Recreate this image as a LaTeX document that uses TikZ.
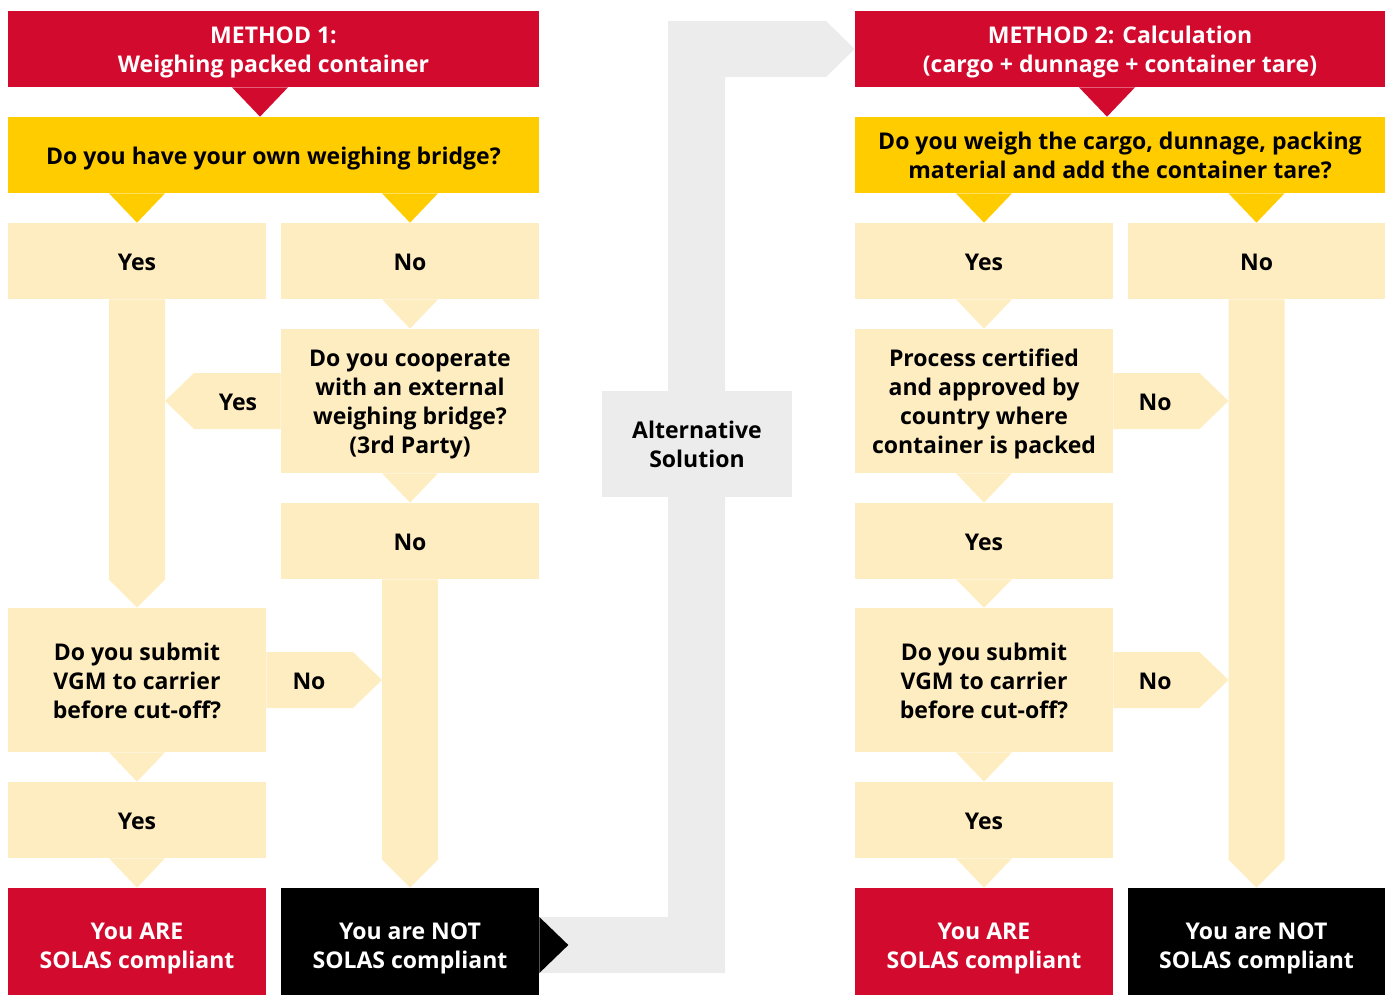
\documentclass[tikz,border=0pt]{standalone}
\usepackage{fontspec}
\setmainfont{Open Sans}
\usetikzlibrary{calc,backgrounds}
\definecolor{sred}{HTML}{D20A2E}
\definecolor{syel}{HTML}{FFCC00}
\definecolor{spale}{HTML}{FFEDC2}
\definecolor{sgray}{HTML}{ECECEC}
\newcommand\lines[1]{\raisebox{-1.9pt}[\height][\depth]{\begin{tabular}{@{}c@{}}#1\end{tabular}}}
\newcommand\dtri[3]{\fill[#1] ($(#2)+(-28,0)$) -- (#3) -- ($(#2)+(28,0)$) -- cycle;}
\newcommand\vbar[2]{\fill[spale] ($(#1)+(-28,0)$) -- ($(#2)+(-28,-28)$) -- (#2) -- ($(#2)+(28,-28)$) -- ($(#1)+(28,0)$) -- cycle;}
\newcommand\rarr[2]{\fill[spale] ($(#1)+(0,-28)$) -- ($(#2)+(-29,-28)$) -- (#2) -- ($(#2)+(-29,28)$) -- ($(#1)+(0,28)$) -- cycle;}
\newcommand\larr[2]{\fill[spale] ($(#1)+(0,-28)$) -- ($(#2)+(29,-28)$) -- (#2) -- ($(#2)+(29,28)$) -- ($(#1)+(0,28)$) -- cycle;}
\begin{document}
\begin{tikzpicture}[x=0.02cm,y=-0.02cm,
  box/.style={rectangle, inner sep=0pt, minimum width=5.16cm,
    font=\bfseries\fontsize{13.1}{16.44}\selectfont},
  short/.style={box, minimum height=1.52cm},
  tall/.style={box, minimum height=2.88cm},
  last/.style={box, minimum height=2.28cm},
  wide/.style={box, minimum width=10.62cm, minimum height=1.52cm},
  pal/.style={fill=spale, text=black},
  hdr/.style={wide, fill=sred, text=white},
  que/.style={wide, fill=syel, text=black},
  ok/.style={last, fill=sred, text=white},
  notok/.style={last, fill=black, text=white},
  lbl/.style={inner sep=0pt, font=\bfseries\fontsize{13.1}{16.44}\selectfont, text=black}]
\useasboundingbox (0,0) rectangle (1391,994);
% ---------- Method 1 ----------
\node[hdr] (h1) at (273.5,49) {\lines{METHOD 1:\\Weighing packed container}};
\node[que] (q1) at (273.5,155) {\lines{Do you have your own weighing bridge?}};
\node[short,pal] (yA1) at (137,261) {\lines{Yes}};
\node[short,pal] (nB1) at (410,261) {\lines{No}};
\node[tall,pal] (qB2) at (410,401) {\lines{Do you cooperate\\with an external\\weighing bridge?\\(3rd Party)}};
\node[short,pal] (nB3) at (410,541) {\lines{No}};
\node[tall,pal] (qA2) at (137,680) {\lines{Do you submit\\VGM to carrier\\before cut-off?}};
\node[short,pal] (yA3) at (137,820) {\lines{Yes}};
\node[ok] (rA) at (137,945) {\lines{You ARE\\SOLAS compliant}};
\node[notok] (kB) at (410,945) {\lines{You are NOT\\SOLAS compliant}};
% ---------- Alternative ----------
\node[box, minimum width=3.8cm, minimum height=2.12cm, fill=sgray, text=black] (alt) at (697,444) {\lines{Alternative\\Solution}};
% ---------- Method 2 ----------
\node[hdr, minimum width=10.6cm] (h2) at (1120,49) {\lines{METHOD 2: Calculation\\(cargo + dunnage + container tare)}};
\node[que, minimum width=10.6cm] (q2) at (1120,155) {\lines{Do you weigh the cargo, dunnage, packing\\material and add the container tare?}};
\node[short,pal] (yC1) at (984,261) {\lines{Yes}};
\node[short,pal, minimum width=5.14cm] (nD1) at (1256.5,261) {\lines{No}};
\node[tall,pal] (qC2) at (984,401) {\lines{Process certified\\and approved by\\country where\\container is packed}};
\node[short,pal] (yC3) at (984,541) {\lines{Yes}};
\node[tall,pal] (qC4) at (984,680) {\lines{Do you submit\\VGM to carrier\\before cut-off?}};
\node[short,pal] (yC5) at (984,820) {\lines{Yes}};
\node[ok] (rC) at (984,945) {\lines{You ARE\\SOLAS compliant}};
\node[notok, minimum width=5.14cm] (kD) at (1256.5,945) {\lines{You are NOT\\SOLAS compliant}};
% ---------- helper coordinates ----------
\coordinate (s1) at ($(h1.south)+(-13.5,0)$);
\coordinate (t1) at ($(q1.north)+(-13.5,0)$);
\coordinate (s2) at ($(h2.south)+(-13,0)$);
\coordinate (t2) at ($(q2.north)+(-13,0)$);
\path (qB2.west -| yA1.south) coordinate (pYes);
\coordinate (tipYes) at ($(pYes)+(28,0)$);
\path (qA2.east -| nB3.south) coordinate (pNo1);
\coordinate (tipNo1) at ($(pNo1)+(-28,0)$);
\path (qC2.east -| nD1.south) coordinate (pNo2);
\coordinate (tipNo2) at ($(pNo2)+(-28,0)$);
\path (qC4.east -| nD1.south) coordinate (pNo3);
\coordinate (tipNo3) at ($(pNo3)+(-28,0)$);
\coordinate (g0) at (kB.east);
% ---------- connectors ----------
\begin{scope}[on background layer]
\fill[sgray] ($(g0)+(0,-28)$) -- (668,917) -- (668,21) -- (826,21) -- (h2.west)
  -- (826,77) -- (725,77) -- (725,973) -- ($(g0)+(0,28)$) -- cycle;
\end{scope}
\fill[black] ($(g0)+(0,-28)$) -- ($(g0)+(29,0)$) -- ($(g0)+(0,28)$) -- cycle;
\dtri{sred}{s1}{t1}
\dtri{sred}{s2}{t2}
\dtri{syel}{q1.south -| yA1.north}{yA1.north}
\dtri{syel}{q1.south -| nB1.north}{nB1.north}
\dtri{syel}{q2.south -| yC1.north}{yC1.north}
\dtri{syel}{q2.south -| nD1.north}{nD1.north}
\dtri{spale}{nB1.south}{qB2.north}
\dtri{spale}{qB2.south}{nB3.north}
\dtri{spale}{qA2.south}{yA3.north}
\dtri{spale}{yA3.south}{rA.north}
\dtri{spale}{yC1.south}{qC2.north}
\dtri{spale}{qC2.south}{yC3.north}
\dtri{spale}{yC3.south}{qC4.north}
\dtri{spale}{qC4.south}{yC5.north}
\dtri{spale}{yC5.south}{rC.north}
\vbar{yA1.south}{qA2.north}
\vbar{nB3.south}{kB.north}
\vbar{nD1.south}{kD.north}
\larr{qB2.west}{tipYes}
\rarr{qA2.east}{tipNo1}
\rarr{qC2.east}{tipNo2}
\rarr{qC4.east}{tipNo3}
\node[lbl] (lYes) at (238,401) {\lines{Yes}};
\node[lbl] (lNo1) at (309,680) {\lines{No}};
\node[lbl] (lNo2) at (1155,401) {\lines{No}};
\node[lbl] (lNo3) at (1155,680) {\lines{No}};
\end{tikzpicture}
\end{document}
